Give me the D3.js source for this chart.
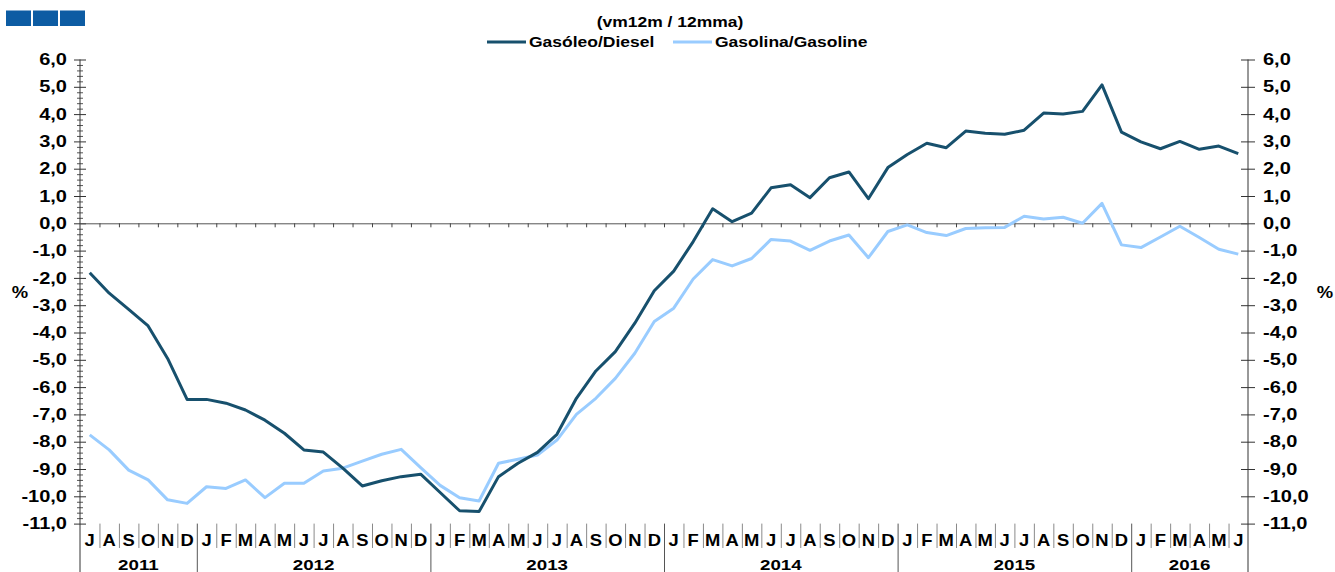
<!DOCTYPE html>
<html>
<head>
<meta charset="utf-8">
<script src="https://cdn.jsdelivr.net/npm/d3@7/dist/d3.min.js"></script>
<style>
  html, body { margin: 0; padding: 0; background: #fff; }
  svg { display: block; font-family: "Liberation Sans", Arial, sans-serif; }
</style>
</head>
<body>
<svg id="chart" width="1335" height="572"></svg>
<script>
// Year-on-year change, 12-month moving average (%), Jul 2011 – Jun 2016
const startMonth = new Date(2011, 6, 1);
const monthInitials = ["J", "F", "M", "A", "M", "J", "J", "A", "S", "O", "N", "D"];
const yearLabels = ["2011", "2012", "2013", "2014", "2015", "2016"];
const yTicks = [6, 5, 4, 3, 2, 1, 0, -1, -2, -3, -4, -5, -6, -7, -8, -9, -10, -11];

const seriesNames = ["Gasóleo/Diesel", "Gasolina/Gasoline"];

const diesel = [
  -1.81, -2.56, -3.15, -3.76, -4.95, -6.45,
  -6.45, -6.59, -6.84, -7.21, -7.69, -8.30, -8.38, -8.97, -9.62, -9.43, -9.28, -9.19,
  -9.86, -10.53, -10.56, -9.28, -8.79, -8.39, -7.73, -6.41, -5.41, -4.70, -3.66, -2.47,
  -1.75, -0.67, 0.53, 0.06, 0.37, 1.30, 1.41, 0.94, 1.67, 1.88, 0.90, 2.04,
  2.52, 2.93, 2.77, 3.38, 3.30, 3.26, 3.41, 4.04, 4.00, 4.10, 5.07, 3.34,
  2.98, 2.73, 3.00, 2.71, 2.83, 2.55
];

const gasoline = [
  -7.75, -8.30, -9.04, -9.40, -10.13, -10.26,
  -9.65, -9.71, -9.40, -10.05, -9.52, -9.52, -9.07, -8.97, -8.71, -8.46, -8.28, -8.95,
  -9.60, -10.05, -10.17, -8.79, -8.64, -8.49, -7.94, -7.00, -6.41, -5.68, -4.76, -3.60,
  -3.11, -2.04, -1.33, -1.56, -1.29, -0.59, -0.65, -0.99, -0.65, -0.43, -1.26, -0.30,
  -0.06, -0.34, -0.45, -0.19, -0.16, -0.15, 0.26, 0.16, 0.22, 0.00, 0.73, -0.79,
  -0.89, -0.50, -0.11, -0.52, -0.95, -1.13
];

const colors = { diesel: "#17506d", gasoline: "#99ccff" };

const months = d3.range(diesel.length).map(i => d3.timeMonth.offset(startMonth, i));

const svg = d3.select("#chart");
const plotLeft = 80, plotRight = 1248, plotTop = 59.5, plotBottom = 523.6, plotFloor = 572;
const stretch = 1.25;

const x = d3.scaleBand().domain(d3.range(months.length)).range([plotLeft, plotRight]);
const xEdge = d3.scaleLinear().domain([0, months.length]).range([plotLeft, plotRight]);
const y = d3.scaleLinear().domain([-11, 6]).range([plotBottom, plotTop]);

const locale = d3.formatLocale({ decimal: ",", thousands: ".", grouping: [3], currency: ["", ""], minus: "-" });
const fmt = locale.format(".1f");

function label(parent, px, py, str, size, anchor, sx) {
  const g = parent.append("g").attr("transform", `translate(${px},${py})`);
  return g.append("text")
    .attr("transform", `scale(${sx === undefined ? stretch : sx},1)`)
    .attr("text-anchor", anchor || "start")
    .attr("font-size", size)
    .attr("font-weight", "bold")
    .attr("fill", "#000")
    .text(str);
}

// corner mark
const logo = svg.append("g");
[6, 33, 60].forEach(lx => {
  logo.append("rect").attr("x", lx).attr("y", 10.5).attr("width", 25).attr("height", 15.5).attr("fill", "#0d5ca3");
});

// heading and legend
label(svg, 670, 27, "(vm12m / 12mma)", 14, "middle");
const legend = svg.append("g");
[[487, colors.diesel, seriesNames[0]], [673, colors.gasoline, seriesNames[1]]].forEach(([lx, c, name]) => {
  legend.append("line").attr("x1", lx).attr("x2", lx + 39).attr("y1", 42).attr("y2", 42)
    .attr("stroke", c).attr("stroke-width", 3);
  label(legend, lx + 42, 47, name, 14, "start");
});

// left value axis: minor ticks every 0.2, major every 1, crossing the axis line
const minor = d3.range(0, 86).map(i => +(-11 + i * 0.2).toFixed(1)).filter(v => Math.abs(v - Math.round(v)) > 1e-6);
function crossTicks(values, size, xpos, color) {
  const gL = svg.append("g").attr("transform", `translate(${xpos},0)`)
    .call(d3.axisLeft(y).tickValues(values).tickSize(size).tickSizeOuter(0).tickFormat(""));
  const gR = svg.append("g").attr("transform", `translate(${xpos},0)`)
    .call(d3.axisRight(y).tickValues(values).tickSize(size).tickSizeOuter(0).tickFormat(""));
  [gL, gR].forEach(g => {
    g.select(".domain").remove();
    g.selectAll("line").attr("stroke", color).attr("stroke-width", 1);
  });
}
crossTicks(minor, 3, plotLeft, "#555");
crossTicks(yTicks, 6, plotLeft, "#333");
crossTicks(yTicks, 7, plotRight, "#333");

// value labels on both sides
const leftLabels = svg.append("g").attr("transform", `translate(${plotLeft},0)`)
  .call(d3.axisLeft(y).tickValues(yTicks).tickSize(0).tickFormat(fmt));
leftLabels.select(".domain").remove();
leftLabels.selectAll("text")
  .attr("x", 0).attr("font-size", 16).attr("font-weight", "bold").attr("fill", "#000")
  .attr("font-family", "Liberation Sans, Arial, sans-serif")
  .attr("transform", `translate(-13,0) scale(${stretch},1)`);

const rightLabels = svg.append("g").attr("transform", `translate(${plotRight},0)`)
  .call(d3.axisRight(y).tickValues(yTicks).tickSize(0).tickFormat(fmt));
rightLabels.select(".domain").remove();
rightLabels.selectAll("text")
  .attr("x", 0).attr("font-size", 16).attr("font-weight", "bold").attr("fill", "#000")
  .attr("font-family", "Liberation Sans, Arial, sans-serif")
  .attr("transform", `translate(15,0) scale(${stretch},1)`);

// axis lines running down through the month band
[plotLeft, plotRight].forEach(ax => {
  svg.append("line").attr("x1", ax).attr("x2", ax).attr("y1", y(6)).attr("y2", plotFloor)
    .attr("stroke", "#333").attr("stroke-width", 1);
});

// zero line with month ticks
const zero = svg.append("g").attr("transform", `translate(0,${y(0)})`)
  .call(d3.axisBottom(xEdge).tickValues(d3.range(1, months.length)).tickSize(4).tickSizeOuter(0).tickFormat(""));
zero.select(".domain").attr("stroke", "#555");
zero.selectAll("line").attr("stroke", "#444");

// month separators and year separators under the plot
const boundaries = d3.range(1, months.length);
const yearBreaks = boundaries.filter(i => months[i].getMonth() === 0);
const monthBreaks = boundaries.filter(i => months[i].getMonth() !== 0);
const sepM = svg.append("g").attr("transform", `translate(0,${plotBottom})`)
  .call(d3.axisBottom(xEdge).tickValues(monthBreaks).tickSize(plotFloor - plotBottom - 24).tickSizeOuter(0).tickFormat(""));
sepM.select(".domain").remove();
sepM.selectAll("line").attr("stroke", "#8a8a8a");
const sepY = svg.append("g").attr("transform", `translate(0,${plotBottom})`)
  .call(d3.axisBottom(xEdge).tickValues(yearBreaks).tickSize(plotFloor - plotBottom).tickSizeOuter(0).tickFormat(""));
sepY.select(".domain").remove();
sepY.selectAll("line").attr("stroke", "#555");

// month initials
const mLab = svg.append("g");
months.forEach((m, i) => {
  label(mLab, x(i) + x.bandwidth() / 2, 545.5, monthInitials[m.getMonth()], 16, "middle", 1.15);
});

// year labels centred over their months
const yLab = svg.append("g");
yearLabels.forEach(yr => {
  const idx = d3.range(months.length).filter(i => months[i].getFullYear() === +yr);
  if (!idx.length) return;
  const cx = (xEdge(idx[0]) + xEdge(idx[idx.length - 1] + 1)) / 2;
  label(yLab, cx, 569.5, yr, 15, "middle");
});

// "%" units on both sides
label(svg, 20, 297.5, "%", 16, "middle", 1.15);
label(svg, 1325, 297.5, "%", 16, "middle", 1.15);

// series lines
const line = d3.line().x((d, i) => x(i) + x.bandwidth() / 2).y(d => y(d));
svg.append("path").datum(gasoline).attr("d", line)
  .attr("fill", "none").attr("stroke", colors.gasoline).attr("stroke-width", 3).attr("stroke-linejoin", "round");
svg.append("path").datum(diesel).attr("d", line)
  .attr("fill", "none").attr("stroke", colors.diesel).attr("stroke-width", 3).attr("stroke-linejoin", "round");
</script>
</body>
</html>
